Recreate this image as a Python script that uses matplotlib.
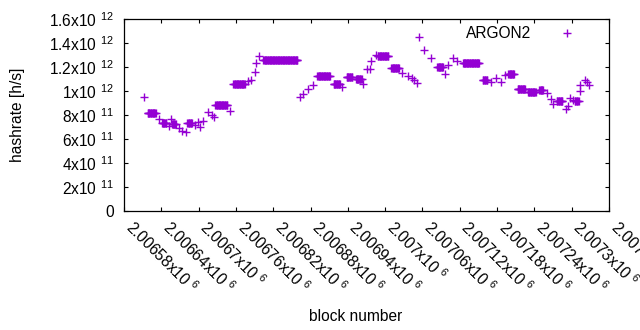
"""ARGON2 hashrate per block, gnuplot-style point plot."""
import numpy as np
import matplotlib
matplotlib.use("Agg")
import matplotlib.pyplot as plt
from matplotlib.ticker import FuncFormatter, MultipleLocator

plt.rcParams["font.family"] = ["Liberation Sans", "DejaVu Sans"]
plt.rcParams["mathtext.fontset"] = "custom"
plt.rcParams["mathtext.rm"] = "Liberation Sans"
plt.rcParams["mathtext.default"] = "regular"

# runs of blocks with (roughly) the same hashrate
run_first = [2006612, 2006618, 2006637, 2006641, 2006652, 2006655, 2006657, 2006669,
             2006674, 2006679, 2006682, 2006694, 2006699, 2006702, 2006707, 2006715,
             2006722, 2006724, 2006727, 2006751, 2006756, 2006779, 2006784, 2006790,
             2006792, 2006797, 2006804, 2006863, 2006868, 2006876, 2006884, 2006891,
             2006917, 2006931, 2006938, 2006953, 2006964, 2006970, 2006976, 2006978,
             2006985, 2006988, 2007010, 2007027, 2007036, 2007043, 2007046, 2007051,
             2007055, 2007063, 2007074, 2007084, 2007097, 2007101, 2007109, 2007116,
             2007125, 2007157, 2007171, 2007178, 2007187, 2007193, 2007198, 2007213,
             2007230, 2007248, 2007260, 2007266, 2007270, 2007276, 2007291, 2007294,
             2007298, 2007302, 2007305, 2007313, 2007314, 2007321, 2007325, 2007328]
run_last = [2006612, 2006631, 2006637, 2006648, 2006652, 2006655, 2006663, 2006669,
            2006674, 2006679, 2006689, 2006694, 2006699, 2006702, 2006707, 2006715,
            2006722, 2006724, 2006746, 2006751, 2006774, 2006779, 2006784, 2006790,
            2006792, 2006797, 2006859, 2006863, 2006868, 2006876, 2006884, 2006911,
            2006927, 2006931, 2006947, 2006962, 2006964, 2006970, 2006976, 2006978,
            2006985, 2007005, 2007022, 2007027, 2007036, 2007043, 2007046, 2007051,
            2007055, 2007063, 2007074, 2007093, 2007097, 2007101, 2007109, 2007116,
            2007151, 2007164, 2007171, 2007178, 2007187, 2007193, 2007207, 2007225,
            2007242, 2007254, 2007260, 2007266, 2007270, 2007285, 2007291, 2007294,
            2007298, 2007302, 2007311, 2007313, 2007314, 2007321, 2007325, 2007328]
# hashrate in units of 1e12 h/s
run_rate = [0.948, 0.820, 0.764, 0.736, 0.711, 0.767, 0.725, 0.689,
            0.669, 0.656, 0.731, 0.719, 0.739, 0.703, 0.753, 0.822,
            0.800, 0.786, 0.881, 0.833, 1.056, 1.081, 1.094, 1.158,
            1.236, 1.292, 1.256, 0.948, 0.975, 1.019, 1.047, 1.122,
            1.056, 1.036, 1.114, 1.097, 1.061, 1.181, 1.183, 1.253,
            1.297, 1.292, 1.189, 1.150, 1.128, 1.111, 1.089, 1.067,
            1.447, 1.339, 1.272, 1.197, 1.139, 1.214, 1.278, 1.250,
            1.233, 1.089, 1.072, 1.106, 1.078, 1.133, 1.142, 1.014,
            0.994, 1.008, 0.986, 0.931, 0.892, 0.914, 0.850, 0.875,
            0.944, 0.925, 0.914, 1.003, 1.047, 1.089, 1.075, 1.050]

X_MIN, X_MAX, X_STEP = 2006580, 2007360, 60
PURPLE = "#9400d3"
FS = 11.2


def sci_label(v, _pos=None):
    # gnuplot "%g x10^{%T}" style
    if v == 0:
        return "0"
    exp = int(np.floor(np.log10(abs(v)) + 1e-9))
    mant = v / 10 ** exp
    return f"{mant:g}x10 $^{{{exp}}}$"


blocks = np.concatenate([np.arange(a, b + 1) for a, b in zip(run_first, run_last)])
rates = np.concatenate([np.full(b - a + 1, r) for a, b, r in zip(run_first, run_last, run_rate)]) * 1e12

fig = plt.figure(figsize=(6.4, 3.3), dpi=100)
ax = fig.add_axes([124 / 640, 119 / 330, 485 / 640, 192 / 330])
ax.plot(blocks, rates, linestyle="none", marker="+", markersize=5.8,
        markeredgewidth=1.0, color=PURPLE, label="ARGON2")

ax.set_xlim(X_MIN, X_MAX)
ax.set_ylim(0, 1.6e12)
ax.xaxis.set_major_locator(MultipleLocator(X_STEP))
ax.yaxis.set_major_locator(MultipleLocator(2e11))
ax.xaxis.set_major_formatter(FuncFormatter(sci_label))
ax.yaxis.set_major_formatter(FuncFormatter(sci_label))
ax.tick_params(direction="in", top=True, right=True, length=3, width=0.8,
               labelsize=FS, colors="black")
ax.tick_params(axis="x", pad=13)
ax.tick_params(axis="y", pad=7.5)
for lab in ax.get_xticklabels():
    lab.set_rotation(-45)
    lab.set_ha("left")
    lab.set_va("baseline")
    lab.set_rotation_mode("anchor")
for s in ax.spines.values():
    s.set_linewidth(0.9)

ax.set_xlabel("block number", fontsize=FS)
ax.xaxis.set_label_coords(0.478, -0.547)
ax.xaxis.label.set_va("center")
ax.set_ylabel("hashrate [h/s]", fontsize=FS)
ax.yaxis.set_label_coords(-0.22, 0.5)
ax.yaxis.label.set_va("center")

ax.legend(loc="upper right", bbox_to_anchor=(0.9456, 0.9635), frameon=False,
          markerfirst=False, handlelength=2, handletextpad=1.3,
          borderaxespad=0, borderpad=0, fontsize=FS)

fig.savefig("out.png", dpi=100, facecolor="white")
